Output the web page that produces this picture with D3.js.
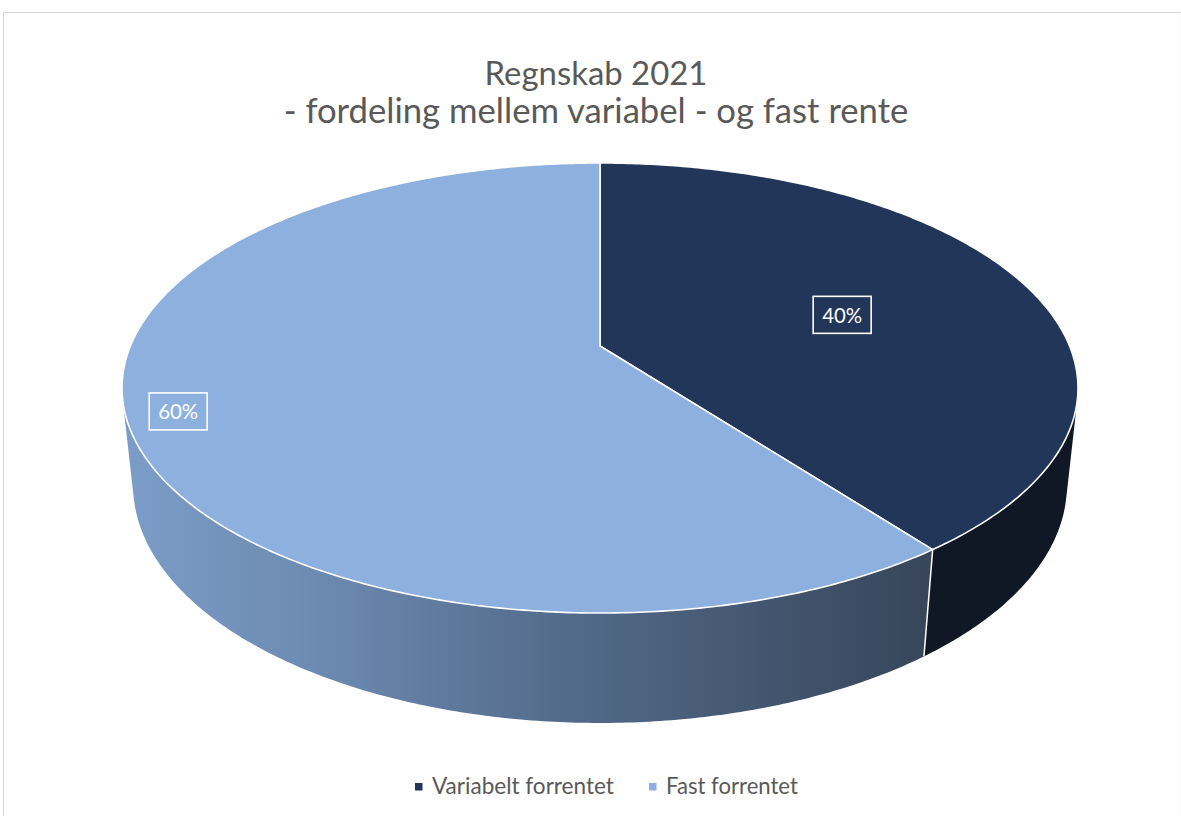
<!DOCTYPE html>
<html>
<head>
<meta charset="utf-8">
<script src="https://cdn.jsdelivr.net/npm/d3@7"></script>
<style>
  html, body { margin: 0; padding: 0; background: #ffffff; }
  svg { display: block; }
  text { font-family: Lato, "Open Sans", sans-serif; }
</style>
</head>
<body>
<svg id="chart" width="1181" height="816"></svg>
<script>
// ---------- data ----------
const categories = ["Variabelt forrentet", "Fast forrentet"];
const values = [39.7, 60.3];
const titleLines = ["Regnskab 2021", "- fordeling mellem variabel - og fast rente"];

// ---------- styles ----------
const topColors = ["#22365A", "#8DB0DE"];
const sideColors = ["#101826", "url(#sideGrad)"];
const textGray = "#595959";

const svg = d3.select("#chart");

// frame
svg.append("rect")
  .attr("x", 3.5).attr("y", 12.5).attr("width", 1178).attr("height", 812)
  .attr("fill", "#fff").attr("stroke", "#D9D9D9").attr("stroke-width", 1.2);

// gradient for light side wall
const defs = svg.append("defs");
const grad = defs.append("linearGradient").attr("id", "sideGrad")
  .attr("gradientUnits", "userSpaceOnUse")
  .attr("x1", 122).attr("y1", 0).attr("x2", 925).attr("y2", 0);
[[0, "#7B9DC7"], [0.22, "#6E8CB4"], [0.595, "#506785"], [1, "#37465A"]]
  .forEach(([o, c]) => grad.append("stop").attr("offset", o).attr("stop-color", c));

// ---------- perspective projection of the 3D pie ----------
const SX = 600, SY = 346, F = 2230, L = 4.749;
const sinA = 0.4625, cosA = Math.sqrt(1 - sinA * sinA), H = 0.2355;
function proj(phi, r, y) {
  const u = r * Math.sin(phi), v = -r * Math.cos(phi);
  const depth = L - y * sinA - v * cosA;
  return [SX + F * u / depth, SY - F * (y * cosA - v * sinA) / depth];
}
const visStart = Math.acos(-1 / (L * cosA));
const visEnd = 2 * Math.PI - visStart;

const pie = d3.pie().sort(null).value(d => d)(values);
const colorTop = d3.scaleOrdinal().domain(categories).range(topColors);
const colorSide = d3.scaleOrdinal().domain(categories).range(sideColors);
const line = d3.line();

function arcPts(a0, a1, r, y) {
  const n = Math.max(2, Math.ceil((a1 - a0) / 0.01));
  return d3.range(n + 1).map(i => proj(a0 + (a1 - a0) * i / n, r, y));
}

// walls
const gWall = svg.append("g");
pie.forEach((s, i) => {
  const a0 = Math.max(s.startAngle, visStart), a1 = Math.min(s.endAngle, visEnd);
  if (a0 >= a1) return;
  const pts = arcPts(a0, a1, 1, 0).concat(arcPts(a0, a1, 1, -H).reverse());
  gWall.append("path").attr("d", line(pts) + "Z")
    .attr("fill", colorSide(categories[i]));
});
// visible slice edges on the wall
pie.forEach(s => {
  const a = s.startAngle;
  if (a > visStart && a < visEnd) {
    gWall.append("path").attr("d", line([proj(a, 1, 0), proj(a, 1, -H)]))
      .attr("stroke", "#fff").attr("stroke-width", 1.5).attr("fill", "none");
  }
});

// tops
const gTop = svg.append("g");
pie.forEach((s, i) => {
  const pts = [proj(0, 0, 0)].concat(arcPts(s.startAngle, s.endAngle, 1, 0));
  gTop.append("path").attr("d", line(pts) + "Z")
    .attr("fill", colorTop(categories[i]))
    .attr("stroke", "#fff").attr("stroke-width", 1.6).attr("stroke-linejoin", "round");
});

// fit text to a target width
function fitText(sel, target, start) {
  sel.attr("font-size", start);
  const w = sel.node().getComputedTextLength();
  sel.attr("font-size", start * target / w);
  return sel;
}

// data labels
const fmt = d3.format(".0%");
const total = d3.sum(values);
const labelR = [0.55, 0.897];
const labelShift = [3 * Math.PI / 180, 0];
const gLab = svg.append("g");
pie.forEach((s, i) => {
  const mid = (s.startAngle + s.endAngle) / 2 + labelShift[i];
  const [x, y] = proj(mid, labelR[i], 0);
  const g = gLab.append("g");
  const rect = g.append("rect");
  const t = g.append("text").attr("x", x).attr("y", y)
    .attr("text-anchor", "middle").attr("dominant-baseline", "central")
    .attr("fill", "#fff").text(fmt(s.value / total));
  fitText(t, 40, 22);
  rect.attr("x", x - 29).attr("y", y - 18.5).attr("width", 58).attr("height", 37)
    .attr("fill", "none").attr("stroke", "#fff").attr("stroke-width", 1.6);
});

// title
const titleW = [223, 625], titleY = [85, 123];
titleLines.forEach((tl, i) => {
  const t = svg.append("text").attr("x", 596).attr("y", titleY[i])
    .attr("text-anchor", "middle").attr("fill", textGray).text(tl);
  fitText(t, titleW[i], 30);
});

// legend
const legX = [415, 649], legW = [182, 132];
categories.forEach((c, i) => {
  svg.append("rect").attr("x", legX[i]).attr("y", 783).attr("width", 7.5).attr("height", 7.5)
    .attr("fill", colorTop(c));
  const t = svg.append("text").attr("x", legX[i] + 17).attr("y", 794)
    .attr("fill", textGray).text(c);
  fitText(t, legW[i], 20);
});
</script>
</body>
</html>
